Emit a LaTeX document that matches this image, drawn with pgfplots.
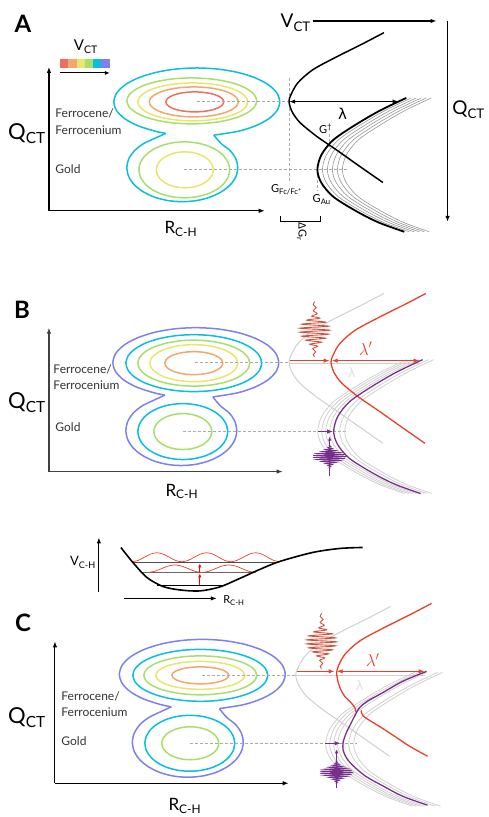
\documentclass[border=0pt]{standalone}
\usepackage{pgfplots}
\pgfplotsset{compat=1.18}
\usepackage{pgfplotstable}
\usepackage{fontspec}
\setmainfont{Lato}
\newfontfamily\dejavu{DejaVu Sans}
\usetikzlibrary{arrows.meta}

\definecolor{cred}{RGB}{236,112,96}
\definecolor{corange}{RGB}{240,168,110}
\definecolor{cyellow}{RGB}{232,230,110}
\definecolor{cgreen}{RGB}{168,222,108}
\definecolor{ccyan}{RGB}{10,190,222}
\definecolor{clav}{RGB}{128,128,236}
\definecolor{lred}{RGB}{232,64,42}
\definecolor{pkred}{RGB}{215,80,60}
\definecolor{lpurp}{RGB}{118,48,140}
\definecolor{lgray}{RGB}{208,208,208}
\definecolor{mgray}{RGB}{150,150,150}
\definecolor{dashg}{RGB}{170,170,170}

\newcommand{\fs}[1]{\fontsize{#1}{#1}\selectfont}

\pgfplotstableread{
c s
0.9659 -0.2588
1 0
0.9659 0.2588
0.8660 0.5
0.7071 0.7071
0.5 0.8660
0.2588 0.9659
0 1
-0.2588 0.9659
-0.5 0.8660
-0.7071 0.7071
-0.8660 0.5
-0.9659 0.2588
-1 0
-0.9659 -0.2588
-0.8660 -0.5
-0.7071 -0.7071
-0.5 -0.8660
-0.2588 -0.9659
0 -1
0.2588 -0.9659
0.5 -0.8660
0.7071 -0.7071
0.8660 -0.5
0.9659 -0.2588
1 0
0.9659 0.2588
}\unitcircle

\pgfplotstableread{
x y
17 34.3
41.5 30.3
58.7 24.7
71.9 17.5
80.2 9.1
83 0
80.2 -9.1
71.9 -17.5
58.7 -24.7
41.5 -30.3
21.5 -33.8
0 -35
-21.5 -33.8
-41.5 -30.3
-58.7 -24.7
-71.9 -17.5
-80.2 -9.1
-83 0
-80.2 9.1
-71.9 17.5
-58.7 24.7
-41.5 30.3
-31 32.5
}\outertop

\pgfplotstableread{
x y
-31 32.5
-42.25 37.7
-53.7 43.3
-62.6 50.5
-68.1 58.9
-70 68
-68.1 77.1
-62.6 85.5
-53.7 92.7
-42.25 98.3
-28.9 101.8
-14.5 103
-0.1 101.8
13.25 98.3
24.7 92.7
33.6 85.5
39.1 77.1
41 68
39.1 58.9
33.6 50.5
24.7 43.3
17 34.3
}\outerbot

\pgfplotstableread{
dx dy
95 -69
74 -58
48 -45
24 -32
9 -19
2 -7
0 0
3 10
11 21
28 35
47 48
71 65
94 81
}\fctab

\pgfplotstableread{
dx dy
89 -72
62 -59
38 -45
16 -30
4 -15
0 0
4 13
16 27
40 42
62 53
87 62
}\autab

\pgfplotstableread{
dx dy
0 0
-1.5 3
1.5 6
-1.5 9
2.5 12
-3 14.5
5 16.5
-8 18.5
11 20.5
-13 22.5
14 24.5
-15 26.5
15 28.5
-15 30.5
14 32.5
-13 34.5
11 36.5
-9 38.5
7 40.5
-5 42.5
3 44.5
-2 47
1 50
-1.5 53
0 55
}\redpk

\pgfplotstableread{
dx dy
0.3 -12
-0.6 -11
1 -10
-1.8 -9
2.9 -8
-4.4 -7
6.3 -6
-8.5 -5
10.9 -4
-13.2 -3
15.2 -2
-16.5 -1
17 0
-16.5 1
15.2 2
-13.2 3
10.9 4
-8.5 5
6.3 6
-4.4 7
2.9 8
-1.8 9
1 10
-0.6 11
0.3 12
}\purpk

\newcommand{\ellp}[5]{\addplot[#1, line width=1.5pt, smooth] table[x expr={#2+#4*\thisrow{c}}, y expr={#3+#5*\thisrow{s}}]{\unitcircle};}
\newcommand{\outershape}[4]{%
\addplot[#1, line width=1.5pt, smooth] table[x expr={#2+\thisrow{x}}, y expr={#3+#4*\thisrow{y}}]{\outertop};
\addplot[#1, line width=1.5pt, smooth] table[x expr={#2+\thisrow{x}}, y expr={#3+#4*\thisrow{y}}]{\outerbot};}
\newcommand{\curveat}[4]{\addplot[#1, smooth] table[x expr={#3+\thisrow{dx}}, y expr={#4+\thisrow{dy}}]{#2};}

\tikzset{
 ah/.style={-{Latex[length=6pt,width=4.5pt]}},
 dah/.style={{Latex[length=6pt,width=4.5pt]}-{Latex[length=6pt,width=4.5pt]}},
 dsh/.style={dashg, line width=0.9pt, dash pattern=on 3pt off 2pt},
}

\begin{document}
\begin{tikzpicture}
\begin{axis}[x=1pt, y=1pt, xmin=0, xmax=483, ymin=0, ymax=817, y dir=reverse, hide axis, clip=false]
\addplot[draw=none] coordinates {(0,0)(483,817)};

% ================= PANEL A =================
\node[font=\fs{24}\bfseries] at (axis cs:23,24) {A};
\addplot[fill=cred,draw=none] coordinates {(60,59)(68.4,59)(68.4,68)(60,68)};
\addplot[fill=corange,draw=none] coordinates {(68.3,59)(76.7,59)(76.7,68)(68.3,68)};
\addplot[fill=cyellow,draw=none] coordinates {(76.6,59)(85,59)(85,68)(76.6,68)};
\addplot[fill=cgreen,draw=none] coordinates {(84.9,59)(93.3,59)(93.3,68)(84.9,68)};
\addplot[fill=ccyan,draw=none] coordinates {(93.2,59)(101.6,59)(101.6,68)(93.2,68)};
\addplot[fill=clav,draw=none] coordinates {(101.5,59)(110,59)(110,68)(101.5,68)};
\addplot[black, line width=1pt, -{Latex[length=5pt,width=4pt]}] coordinates {(60,73)(110,73)};
\node[font=\fs{15}] at (axis cs:86,47) {V\textsubscript{CT}};

\addplot[black, line width=1.1pt, ah] coordinates {(49,211)(49,67)};
\addplot[black, line width=1.1pt, ah] coordinates {(49,211)(265,211)};
\node[font=\fs{22}] at (axis cs:27,134) {Q\textsubscript{CT}};
\node[font=\fs{17}] at (axis cs:181,229) {R\textsubscript{C-H}};
\node[anchor=west, font=\fs{12}, text=black!80] at (axis cs:52,113) {Ferrocene/};
\node[anchor=west, font=\fs{12}, text=black!80] at (axis cs:52,130) {Ferrocenium};
\node[anchor=west, font=\fs{12}, text=black!80] at (axis cs:52,169) {Gold};

\outershape{ccyan}{197}{102}{0.97}
\ellp{cgreen}{192}{101}{65}{23}
\ellp{cyellow}{193}{102}{55}{19}
\ellp{corange}{194}{102}{44.5}{15}
\ellp{cred}{195}{102}{29}{10}
\ellp{cgreen}{184.5}{170}{45.5}{28}
\ellp{cyellow}{185}{170}{28.5}{18}

\addplot[dsh] coordinates {(197,101.7)(289,101.7)};
\addplot[dsh] coordinates {(184,170)(348,170)};
\addplot[dsh] coordinates {(289.3,78)(289.3,182)};
\addplot[dsh] coordinates {(317.7,170)(317.7,191)};
\addplot[dsh] coordinates {(329.5,134)(329.5,147)};

\curveat{mgray, line width=0.6pt}{\autab}{342.7}{170}
\curveat{mgray, line width=0.6pt}{\autab}{337.7}{170}
\curveat{mgray, line width=0.6pt}{\autab}{332.7}{170}
\curveat{mgray, line width=0.6pt}{\autab}{327.7}{170}
\curveat{mgray, line width=0.6pt}{\autab}{322.7}{170}
\curveat{black, line width=1.8pt}{\autab}{317.7}{170}
\curveat{black, line width=1.5pt}{\fctab}{289.3}{101.7}

\addplot[black, line width=1.1pt, dah] coordinates {(289.5,101.7)(399,101.7)};
\node[font=\dejavu\fs{15}] at (axis cs:343,114) {λ};
\node[font=\fs{11}] at (axis cs:326,129) {G\textsuperscript{\dag}};
\node[font=\fs{11}] at (axis cs:287,190) {G\textsubscript{Fc/Fc\textsuperscript{+}}};
\node[font=\fs{11}] at (axis cs:322,200) {G\textsubscript{Au}};
\addplot[black, line width=1pt] coordinates {(281,216)(281,222)(321,222)(321,216)};
\node[rotate=-90, font=\fs{11}] at (axis cs:302,232) {{\dejavu\fs{10}Δ}G\textsubscript{r}};

\node[font=\fs{19}] at (axis cs:296,23) {V\textsubscript{CT}};
\addplot[black, line width=1.1pt, ah] coordinates {(313,21)(437,21)};
\addplot[black, line width=1.1pt, ah] coordinates {(448,21)(448,222)};
\node[font=\fs{19}] at (axis cs:469,110) {Q\textsubscript{CT}};

% ================= PANEL B =================
\node[font=\fs{24}\bfseries] at (axis cs:22,310) {B};
\addplot[black!75, line width=1.1pt, ah] coordinates {(49,472)(49,328)};
\addplot[black!75, line width=1.1pt, ah] coordinates {(49,472)(283,472)};
\node[font=\fs{22}] at (axis cs:27,403) {Q\textsubscript{CT}};
\node[font=\fs{17}] at (axis cs:182,492) {R\textsubscript{C-H}};
\node[anchor=west, font=\fs{12}, text=black!80] at (axis cs:50,370) {Ferrocene/};
\node[anchor=west, font=\fs{12}, text=black!80] at (axis cs:50,386) {Ferrocenium};
\node[anchor=west, font=\fs{12}, text=black!80] at (axis cs:52,428) {Gold};

\outershape{clav}{196}{363}{1}
\ellp{ccyan}{194}{363.5}{68}{28.5}
\ellp{cgreen}{194}{363.5}{56}{23}
\ellp{cyellow}{194}{363.5}{44}{18.5}
\ellp{corange}{194}{363.5}{29}{11.5}
\ellp{ccyan}{183}{432}{45}{28}
\ellp{cgreen}{183}{432}{29}{18}

\addplot[dsh] coordinates {(195,363)(290,363)};
\addplot[dsh] coordinates {(183,432)(348,432)};

\curveat{lgray, line width=1pt}{\fctab}{289.3}{362.7}
\addplot[lgray, line width=1pt] coordinates {(290,363.5)(420,363.5)};
\curveat{lgray, line width=0.8pt}{\autab}{318}{432}
\curveat{lgray, line width=0.8pt}{\autab}{322}{432}
\curveat{lgray, line width=0.8pt}{\autab}{326}{432}
\curveat{lgray, line width=0.8pt}{\autab}{330}{432}
\curveat{lgray, line width=0.8pt}{\autab}{340}{432}
\curveat{lgray, line width=0.8pt}{\autab}{345}{432}
\curveat{lred, line width=1.3pt}{\fctab}{331.3}{362.7}
\curveat{lpurp, line width=1.3pt}{\autab}{334}{432}

\addplot[lred, line width=1.1pt, ah] coordinates {(290,361)(330,361)};
\addplot[lred, line width=1.1pt, dah] coordinates {(332,361)(420,361)};
\node[text=lred, font=\fs{17}] at (axis cs:366,349) {$\lambda'$};
\node[text=black!12, font=\dejavu\fs{13}] at (axis cs:352,373) {λ};
\curveat{pkred, line width=0.9pt}{\redpk}{315}{302}
\addplot[lpurp, line width=1pt, ah] coordinates {(318,432)(333.5,432)};
\curveat{lpurp, line width=0.8pt}{\purpk}{330}{457}
\addplot[lpurp, line width=1pt, -{Latex[length=4pt,width=3.5pt]}] coordinates {(330,476)(330,437)};

% ================= INSET =================
\addplot[black, line width=1.1pt, ah] coordinates {(99,593)(99,538)};
\node[font=\fs{13}] at (axis cs:83,563) {V\textsubscript{C-H}};
\addplot[black, line width=1.1pt, ah] coordinates {(124,599)(217,599)};
\node[anchor=west, font=\fs{11}] at (axis cs:220,601) {R\textsubscript{C-H}};
\addplot[black!70, line width=0.9pt] coordinates {(133,563.3)(279,563.3)};
\addplot[black!60, line width=0.9pt] coordinates {(143,573.3)(254,573.3)};
\addplot[black, line width=1pt] coordinates {(157,585.7)(224,585.7)};
\addplot[lred, line width=0.7pt, smooth] coordinates {(132,562.3)(138.2,561)(144.5,557.8)(150.7,554.6)(157,553.3)(163.2,554.6)(169.5,557.8)(175.7,561)(182,562.3)(188.2,561)(194.5,557.8)(200.7,554.6)(207,553.3)(213,554.6)(219,557.8)(225,561)(231,562.3)(237,561)(243.5,557.8)(249.7,554.6)(256,553.3)(262,554.6)(268,557.8)(274,561)(280,562.3)};
\addplot[lred, line width=0.7pt, smooth] coordinates {(148,573)(154.75,571.9)(161.5,569.25)(168.25,566.6)(175,565.5)(181.75,566.6)(188.5,569.25)(195.25,571.9)(202,573)(208.75,571.9)(215.5,569.25)(222.25,566.6)(229,565.5)(235.75,566.6)(242.5,569.25)(249.25,571.9)(256,573)};
\addplot[red, line width=1pt, -{Latex[length=4pt,width=3.5pt]}] coordinates {(200,586)(200,574)};
\addplot[red, line width=1pt, -{Latex[length=4pt,width=3.5pt]}] coordinates {(200,574)(200,564)};
\addplot[black, line width=1.6pt, smooth] coordinates {(121,548)(133,563)(147,578)(163,587)(180,590.5)(200,591.5)(220,587.5)(240,579)(260,570)(280,562)(313,553)(340,549)(363,548)};

% ================= PANEL C =================
\node[font=\fs{24}\bfseries] at (axis cs:23,623) {C};
\addplot[black, line width=1.1pt, ah] coordinates {(55,784)(55,642)};
\addplot[black, line width=1.1pt, ah] coordinates {(55,784)(289,784)};
\node[font=\fs{22}] at (axis cs:27,718) {Q\textsubscript{CT}};
\node[font=\fs{17}] at (axis cs:185,807) {R\textsubscript{C-H}};
\node[anchor=west, font=\fs{12}, text=black!80] at (axis cs:58,697) {Ferrocene/};
\node[anchor=west, font=\fs{12}, text=black!80] at (axis cs:58,713) {Ferrocenium};
\node[anchor=west, font=\fs{12}, text=black!80] at (axis cs:58,742) {Gold};

\outershape{clav}{202.5}{675}{1}
\ellp{ccyan}{200.5}{676}{67.5}{26}
\ellp{cgreen}{200.5}{676}{56.5}{19.5}
\ellp{cyellow}{200.5}{676}{44.5}{14}
\ellp{corange}{200.5}{676}{28.5}{8.5}
\ellp{ccyan}{190}{744}{45}{28}
\ellp{cgreen}{190.5}{744}{28.5}{16.5}

\addplot[dsh] coordinates {(202,676)(296,676)};
\addplot[dsh] coordinates {(190,744)(357,744)};

\curveat{lgray, line width=1pt}{\fctab}{296}{676}
\addplot[lgray, line width=1pt] coordinates {(296,676)(425,676)};
\curveat{lgray, line width=0.8pt}{\autab}{326}{745}
\curveat{lgray, line width=0.8pt}{\autab}{330}{745}
\curveat{lgray, line width=0.8pt}{\autab}{334}{745}
\curveat{lgray, line width=0.8pt}{\autab}{338}{745}
\curveat{lgray, line width=0.8pt}{\autab}{349}{745}
\curveat{lgray, line width=0.8pt}{\autab}{354}{745}
\addplot[lred, line width=1.3pt, smooth] coordinates {(432,604)(411,615)(385,628)(361,641)(346,654)(339,666)(337,673)(338,681)(341,690)(345,697)(351,703)(355,708)(356.5,713)};
\addplot[lred, line width=1.3pt, smooth] coordinates {(361.5,711)(362,714)(364,717)(369,720.5)(382,728.5)(395,737)(410,747)(428,757)};
\addplot[lpurp, line width=1.3pt, smooth] coordinates {(427,672)(403,682)(382,694)(368,701.7)(360,708.3)(355,716.7)(351.7,723.3)(346.7,733.3)(343.5,743)(343.5,751)(347,759)(354,767)(366,777)(382,786)(403,797)(428,806)};

\addplot[lred, line width=1.1pt, ah] coordinates {(297,672)(335,672)};
\addplot[lred, line width=1.1pt, dah] coordinates {(337,672)(425,672)};
\node[text=lred, font=\fs{17}] at (axis cs:373,661) {$\lambda'$};
\node[text=black!12, font=\dejavu\fs{13}] at (axis cs:360,686) {λ};
\curveat{pkred, line width=0.9pt}{\redpk}{322}{614}
\addplot[lpurp, line width=1pt, ah] coordinates {(325,744)(341,744)};
\curveat{lpurp, line width=0.8pt}{\purpk}{337}{773}
\addplot[lpurp, line width=1pt, -{Latex[length=4pt,width=3.5pt]}] coordinates {(337,789)(337,750)};

\end{axis}
\end{tikzpicture}
\end{document}
